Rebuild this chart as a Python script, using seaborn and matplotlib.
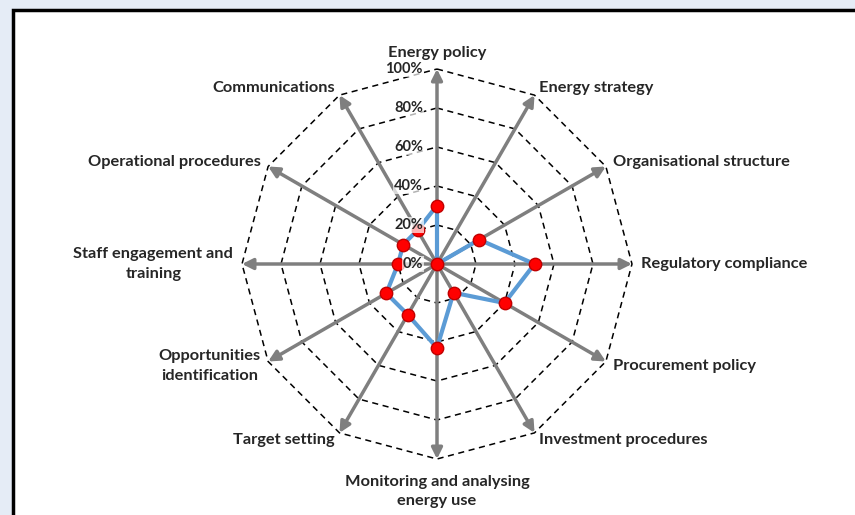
import numpy as np
import pandas as pd
import matplotlib
matplotlib.use("Agg")
import matplotlib.pyplot as plt
from matplotlib.patches import Rectangle
import seaborn as sns

# kategoriler (saat yönünde, en üstten başlayarak) ve değerler
categories = ["Energy policy", "Energy strategy", "Organisational structure",
              "Regulatory compliance", "Procurement policy", "Investment procedures",
              "Monitoring and analysing\nenergy use", "Target setting",
              "Opportunities\nidentification", "Staff engagement and\ntraining",
              "Operational procedures", "Communications"]
values = [30, 0, 25, 50, 40, 17, 43, 30, 30, 20, 20, 20]
rings = [20, 40, 60, 80, 100]
ring_labels = ["0%", "20%", "40%", "60%", "80%", "100%"]

sns.set_style("white")
plt.rcParams["font.family"] = ["Lato", "DejaVu Sans"]

n = len(categories)
angles = np.deg2rad(90 - 360 / n * np.arange(n))
df = pd.DataFrame({"cat": categories, "val": values, "ang": angles})
df["x"] = df["val"] / 100 * np.cos(df["ang"])
df["y"] = df["val"] / 100 * np.sin(df["ang"])

fig = plt.figure(figsize=(8.55, 5.15), dpi=100, facecolor="#e5ecf6")
ax = fig.add_axes([0, 0, 1, 1])
ax.set_xlim(-437 / 195, (855 - 437) / 195)
ax.set_ylim(-(515 - 264) / 195, 264 / 195)
ax.axis("off")

# beyaz çerçeve
ax.add_patch(Rectangle((-424 / 195, -2), 5, (254 / 195) + 2, facecolor="white",
                       edgecolor="black", lw=2.5, zorder=0))

# kesikli halkalar
for r in rings:
    px = np.append(r / 100 * np.cos(angles), r / 100 * np.cos(angles[0]))
    py = np.append(r / 100 * np.sin(angles), r / 100 * np.sin(angles[0]))
    ax.plot(px, py, color="black", lw=1.1, ls=(0, (4, 3)), zorder=1)

# eksen okları
for a in angles:
    ax.annotate("", xy=(np.cos(a), np.sin(a)), xytext=(0, 0),
                arrowprops=dict(arrowstyle="-|>", color="#7f7f7f", lw=2.5,
                                mutation_scale=16, shrinkA=0, shrinkB=0),
                zorder=2)

# veri çizgisi ve noktalar
lx = np.append(df["x"].values, df["x"].values[0])
ly = np.append(df["y"].values, df["y"].values[0])
ax.plot(lx, ly, color="#5b9bd5", lw=3, zorder=3)
sns.scatterplot(data=df, x="x", y="y", ax=ax, color="#ff0000", edgecolor="#c00000",
                linewidth=1, s=80, zorder=4, legend=False)

# yüzde etiketleri
for i, lab in enumerate(ring_labels):
    ax.text(-0.072, i * 0.2, lab, ha="right", va="center", fontsize=10.5,
            fontweight="bold", zorder=5,
            bbox=dict(boxstyle="square,pad=0.05", fc="white", ec="none", alpha=0.7))

# kategori etiketleri
for cat, a in zip(categories, angles):
    c, s = np.cos(a), np.sin(a)
    x, y = 1.045 * c, 1.045 * s
    if c > 0.1:
        ha = "left"
    elif c < -0.1:
        ha = "right"
    else:
        ha = "center"
    if s > 0.9:
        va = "bottom"
    elif s < -0.9:
        va = "top"
        y = 1.08 * s
    else:
        va = "center"
    ax.text(x, y, cat, ha=ha, va=va, fontsize=11.8, fontweight="bold",
            multialignment="center", linespacing=1.5, zorder=5)

fig.savefig("out.png", dpi=100, facecolor=fig.get_facecolor())
